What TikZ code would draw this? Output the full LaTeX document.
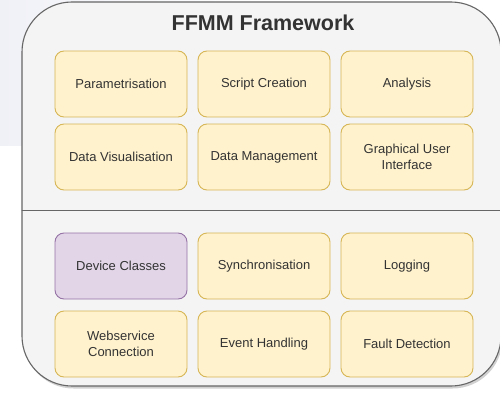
\documentclass[tikz,border=0pt]{standalone}
\usepackage{fontspec}
\setmainfont{Liberation Sans}
\usepackage{xcolor}
\usepackage{tikz}
\usetikzlibrary{positioning,calc}
\definecolor{framefill}{HTML}{F4F4F4}
\definecolor{framedraw}{HTML}{666666}
\definecolor{modfill}{HTML}{FFF2CC}
\definecolor{moddraw}{HTML}{D6B656}
\definecolor{devfill}{HTML}{E1D5E7}
\definecolor{devdraw}{HTML}{9673A6}
\definecolor{ink}{HTML}{333333}
\definecolor{bgtint}{HTML}{F0F1F7}
\tikzset{
    every picture/.style={line cap=round,line join=round},
    frame/.style={draw=framedraw,fill=framefill,line width=1.1pt,rounded corners=50pt,
      minimum width=479pt,minimum height=384pt,inner sep=0pt,outer sep=0pt},
    frameshadow/.style={fill=black,opacity=0.18,rounded corners=50pt,
      minimum width=479pt,minimum height=384pt,inner sep=0pt},
    module/.style={draw=moddraw,fill=modfill,line width=0.9pt,rounded corners=9pt,
      minimum width=132pt,minimum height=66pt,inner sep=2pt,outer sep=0pt,
      font=\fontsize{13}{15.5}\selectfont,text=ink,align=center},
    device/.style={draw=devdraw,fill=devfill},
    fwtitle/.style={font=\fontsize{21.5}{26}\selectfont\bfseries,text=ink},
    divider/.style={draw=framedraw,line width=0.9pt}
}

\begin{document}
\begin{tikzpicture}[x=1pt,y=-1pt]
  \useasboundingbox (0,0) rectangle (500,393);
  \shade[left color=bgtint,right color=white] (0,0) rectangle (260,145);
  \node[frameshadow,xshift=1.5pt,yshift=-2.5pt] (fwshadow) at (261.5,194){};
  \node[frame] (fw) at (261.5,194){};
  \node[fwtitle] (title) at (263,23){FFMM Framework};
  \coordinate (cut) at (0,210);
  \draw[divider] (fw.west |- cut) -- (fw.east |- cut);
  % upper layer
  \foreach \txt [count=\i from 0] in {Parametrisation,Script Creation,Analysis,
      Data Visualisation,Data Management,{Graphical User\\Interface}}{
    \pgfmathtruncatemacro{\c}{mod(\i,3)}\pgfmathtruncatemacro{\r}{div(\i,3)}
    \node[module] (up\i) at (121+143*\c,84+73*\r){\txt};}
  % lower layer
  \foreach \txt/\sty [count=\i from 0] in {Device Classes/device,Synchronisation/module,
      Logging/module,{Webservice\\Connection}/module,Event Handling/module,
      Fault Detection/module}{
    \pgfmathtruncatemacro{\c}{mod(\i,3)}\pgfmathtruncatemacro{\r}{div(\i,3)}
    \node[module,\sty] (low\i) at (121+143*\c,266+78*\r){\txt};}
\end{tikzpicture}
\end{document}
